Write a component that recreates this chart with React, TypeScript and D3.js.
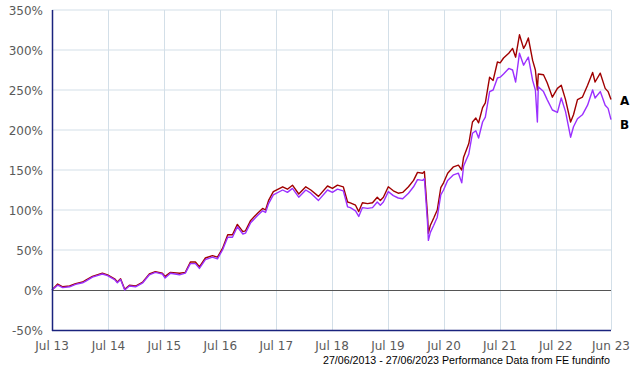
import React from "react";
import * as d3 from "d3";

const dates: string[] = [
  "2013-06-27","2013-08-03","2013-09-05","2013-10-20","2013-11-28","2014-01-13","2014-02-03","2014-03-18",
  "2014-05-22","2014-06-25","2014-08-10","2014-08-28","2014-09-18","2014-10-15","2014-11-15","2014-12-25",
  "2015-02-10","2015-03-25","2015-05-03","2015-06-18","2015-07-06","2015-08-10","2015-10-08","2015-11-15",
  "2015-12-18","2016-01-20","2016-02-15","2016-03-25","2016-05-10","2016-06-12","2016-07-15","2016-08-18",
  "2016-09-18","2016-10-20","2016-11-25","2016-12-12","2017-01-15","2017-03-01","2017-04-03","2017-04-22",
  "2017-05-12","2017-06-12","2017-08-12","2017-09-12","2017-10-15","2017-11-25","2018-01-10","2018-02-12",
  "2018-04-03","2018-06-01","2018-07-03","2018-08-05","2018-09-12","2018-10-10","2018-10-28","2018-12-01",
  "2018-12-22","2019-01-15","2019-02-18","2019-03-22","2019-04-22","2019-05-12","2019-06-01","2019-07-03",
  "2019-08-05","2019-09-06","2019-10-05","2019-11-12","2019-12-15","2020-01-10","2020-02-12","2020-02-24",
  "2020-03-15","2020-03-21","2020-04-03","2020-04-25","2020-05-18","2020-06-10","2020-06-28","2020-07-25",
  "2020-09-01","2020-10-03","2020-10-25","2020-11-06","2020-12-10","2021-01-03","2021-01-25","2021-02-12",
  "2021-03-10","2021-03-28","2021-04-25","2021-05-18","2021-06-15","2021-07-03","2021-07-25","2021-08-28",
  "2021-09-22","2021-10-12","2021-11-06","2021-12-03","2021-12-15","2022-01-03","2022-01-31","2022-02-18",
  "2022-03-03","2022-03-09","2022-04-12","2022-05-06","2022-06-09","2022-07-12","2022-08-06","2022-09-03",
  "2022-10-06","2022-10-25","2022-11-20","2022-12-22","2023-01-25","2023-02-27","2023-03-15","2023-04-18",
  "2023-05-20","2023-06-08","2023-06-27"
];

const seriesA: number[] = [
  0, 7.5, 4, 5, 8, 10, 12.5, 17,
  21, 19, 14, 10, 14, 1, 6, 5,
  10, 20, 23, 21, 17, 22, 21, 22,
  35, 35, 29, 40, 43, 41, 52, 69,
  69, 82, 73, 74, 87, 96, 102, 100,
  112, 123, 129, 126, 131, 120, 129, 125,
  117, 130, 127, 131, 129, 110, 109, 106,
  98, 109, 108, 109, 116, 112, 116, 129,
  124, 121, 122, 129, 137, 147, 146, 148,
  94, 71, 81, 90, 100, 128, 134, 146,
  154, 156, 150, 166, 183, 210, 215, 209,
  228, 234, 266, 262, 285, 284, 290, 296,
  302, 291, 319, 302, 306, 315, 287, 275,
  250, 270, 269, 259, 241, 252, 256, 238,
  210, 219, 238, 241, 256, 272, 260, 271,
  252, 248, 238
];

const seriesB: number[] = [
  0, 6, 3, 4, 7, 9, 11, 16,
  20, 18, 13, 9, 13, 0, 5, 4,
  9, 19, 22, 20, 15, 21, 19, 21,
  33, 33, 27, 38, 41, 39, 50, 66,
  66, 79, 70, 71, 84, 93, 99, 97,
  108, 119, 125, 122, 127, 116, 125, 121,
  112, 125, 122, 126, 124, 104, 103, 99,
  92, 103, 102, 103, 110, 106, 110, 123,
  118, 115, 114, 121, 129, 138, 137, 139,
  85, 62, 72, 81, 91, 119, 125, 137,
  144, 146, 134, 155, 170, 196, 199, 190,
  210, 216, 248, 250, 265, 266, 270, 277,
  275, 260, 296, 281, 285, 291, 262, 250,
  210, 254, 248, 238, 225, 222, 240, 223,
  191, 204, 214, 219, 231, 250, 240, 248,
  231, 227, 213
];

const yTicks: number[] = [-50, 0, 50, 100, 150, 200, 250, 300, 350];
const xTickDates: string[] = [
  "2013-07-01","2014-07-01","2015-07-01","2016-07-01","2017-07-01",
  "2018-07-01","2019-07-01","2020-07-01","2021-07-01","2022-07-01","2023-06-27"
];
const xTickLabels: string[] = [
  "Jul 13","Jul 14","Jul 15","Jul 16","Jul 17","Jul 18","Jul 19","Jul 20","Jul 21","Jul 22","Jun 23"
];
const seriesNames: string[] = ["A", "B"];
const footer = "27/06/2013 - 27/06/2023 Performance Data from FE fundinfo";

export default function App() {
  const W = 640, H = 370;
  const left = 52, right = 611, top = 10, bottom = 330;
  const parse = d3.timeParse("%Y-%m-%d");
  const x = d3.scaleTime()
    .domain([parse("2013-06-27")!, parse("2023-06-27")!])
    .range([left, right]);
  const y = d3.scaleLinear().domain([-50, 350]).range([bottom, top]);
  const pts = dates.map((d) => parse(d)!);
  const line = (vals: number[]) =>
    d3.line<number>()
      .x((_, i) => x(pts[i]))
      .y((v) => y(v))(vals) || "";
  const tickX = xTickDates.map((d) => x(parse(d)!));
  const gridX = [...tickX.slice(1)];
  const font = "'DejaVu Sans', Verdana, sans-serif";
  const lastA = seriesA[seriesA.length - 1];
  const lastB = seriesB[seriesB.length - 1];

  return (
    <svg width={W} height={H} style={{ position: "absolute", left: 0, top: 0, background: "#fff" }}>
      <rect x={0} y={0} width={W} height={H} fill="#fff" />
      {yTicks.filter((t) => t !== 0 && t !== -50).map((t) => (
        <line key={"gy" + t} x1={left} x2={right} y1={y(t)} y2={y(t)} stroke="#d3dfe8" strokeWidth={1} />
      ))}
      {gridX.map((gx, i) => (
        <line key={"gx" + i} x1={Math.round(gx) + 0.5} x2={Math.round(gx) + 0.5} y1={top} y2={bottom} stroke="#d3dfe8" strokeWidth={1} />
      ))}
      <line x1={left} x2={right} y1={y(0) + 0.5} y2={y(0) + 0.5} stroke="#555" strokeWidth={1} />
      <path d={line(seriesA)} fill="none" stroke="#a00000" strokeWidth={1.4} strokeLinejoin="round" />
      <path d={line(seriesB)} fill="none" stroke="#9b30ff" strokeWidth={1.4} strokeLinejoin="round" />
      <line x1={left + 0.5} x2={left + 0.5} y1={top} y2={bottom + 1} stroke="#1a237e" strokeWidth={1.5} />
      <line x1={left} x2={right} y1={bottom + 0.5} y2={bottom + 0.5} stroke="#1a237e" strokeWidth={1.5} />
      {yTicks.map((t) => (
        <text key={"yl" + t} x={43} y={y(t) + 4.5} textAnchor="end" fontFamily={font} fontSize={12} fill="#5a5a5a">
          {t + "%"}
        </text>
      ))}
      {xTickLabels.map((lab, i) => (
        <text key={"xl" + i} x={tickX[i] + (i === 0 ? -0.5 : 0)} y={350} textAnchor="middle" fontFamily={font} fontSize={12} fill="#5a5a5a">
          {lab}
        </text>
      ))}
      <text x={620} y={y(lastA) + 5} fontFamily={font} fontSize={12} fontWeight="bold" fill="#000">{seriesNames[0]}</text>
      <text x={620} y={y(lastB) + 9} fontFamily={font} fontSize={12} fontWeight="bold" fill="#000">{seriesNames[1]}</text>
      <text x={610} y={364} textAnchor="end" fontFamily="'Liberation Sans', Arial, sans-serif" fontSize={11} fill="#000"
        textLength={287} lengthAdjust="spacingAndGlyphs">
        {footer}
      </text>
    </svg>
  );
}
